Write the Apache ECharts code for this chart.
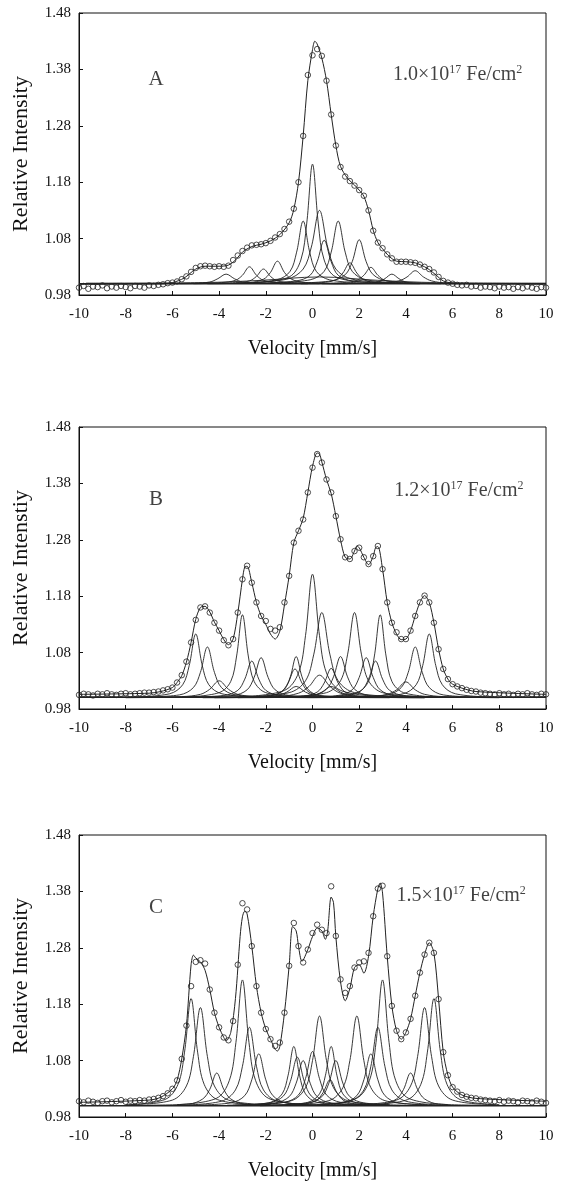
<!DOCTYPE html>
<html>
<head>
<meta charset="utf-8">
<script src="https://cdn.jsdelivr.net/npm/echarts@6/dist/echarts.min.js"></script>
<style>
html,body{margin:0;padding:0;background:#fff;}
#chart{width:565px;height:1192px;}
</style>
</head>
<body>
<div id="chart"></div>
<script>
// ---------- tick labels / text ----------
const yTickLabels = ['0.98','1.08','1.18','1.28','1.38','1.48'];
const xTickLabels = ['-10','-8','-6','-4','-2','0','2','4','6','8','10'];
const panelLetters = ['A','B','C'];
const doseValues = ['1.0','1.2','1.5'];
const yAxisNames = ['Relative Intensity','Relative Intenstiy','Relative Intensity'];
const xAxisName = 'Velocity [mm/s]';

// ---------- measured spectra (velocity grid, mm/s) ----------
const velocityGrid = [-10,-9.8,-9.6,-9.4,-9.2,-9,-8.8,-8.6,-8.4,-8.2,-8,-7.8,-7.6,-7.4,-7.2,-7,
 -6.8,-6.6,-6.4,-6.2,-6,-5.8,-5.6,-5.4,-5.2,-5,-4.8,-4.6,-4.4,-4.2,-4,-3.8,-3.6,-3.4,-3.2,-3,
 -2.8,-2.6,-2.4,-2.2,-2,-1.8,-1.6,-1.4,-1.2,-1,-0.8,-0.6,-0.4,-0.2,0,0.2,0.4,0.6,0.8,1,
 1.2,1.4,1.6,1.8,2,2.2,2.4,2.6,2.8,3,3.2,3.4,3.6,3.8,4,4.2,4.4,4.6,4.8,5,
 5.2,5.4,5.6,5.8,6,6.2,6.4,6.6,6.8,7,7.2,7.4,7.6,7.8,8,8.2,8.4,8.6,8.8,9,9.2,9.4,9.6,9.8,10];

const dataA = [0.993,0.996,0.991,0.995,0.994,0.997,0.992,0.995,0.993,0.996,0.994,0.992,0.996,0.995,0.993,0.997,
 0.996,0.998,0.999,1.001,1.002,1.004,1.008,1.013,1.021,1.028,
 1.031,1.032,1.031,1.030,1.031,1.030,1.032,1.042,1.050,1.058,
 1.064,1.068,1.069,1.070,1.072,1.076,1.082,1.088,1.097,1.110,
 1.133,1.180,1.262,1.370,1.405,1.416,1.404,1.360,1.300,1.245,
 1.207,1.190,1.182,1.174,1.166,1.156,1.130,1.094,1.073,1.063,
 1.052,1.045,1.039,1.039,1.039,1.038,1.037,1.034,1.030,1.026,
 1.020,1.012,1.005,1.002,1.000,0.998,0.997,0.998,0.995,0.996,
 0.993,0.995,0.994,0.992,0.995,0.993,0.994,0.991,0.994,0.992,
 0.995,0.993,0.991,0.994,0.993];

const dataB = [1.005,1.007,1.006,1.004,1.007,1.006,1.008,1.006,1.005,1.007,1.008,1.006,1.007,1.008,1.009,1.009,
 1.010,1.011,1.013,1.015,1.018,1.027,1.040,1.064,1.098,1.138,
 1.160,1.162,1.151,1.133,1.119,1.102,1.093,1.104,1.151,1.210,
 1.234,1.204,1.169,1.145,1.136,1.122,1.119,1.125,1.169,1.216,
 1.275,1.296,1.316,1.364,1.408,1.432,1.417,1.387,1.364,1.322,
 1.281,1.249,1.246,1.260,1.266,1.249,1.237,1.251,1.269,1.228,
 1.169,1.133,1.116,1.104,1.104,1.119,1.145,1.169,1.181,1.169,
 1.133,1.086,1.051,1.033,1.024,1.020,1.017,1.014,1.012,1.011,
 1.009,1.008,1.007,1.006,1.008,1.006,1.007,1.005,1.007,1.006,
 1.008,1.006,1.005,1.007,1.006];

const dataC = [1.008,1.006,1.009,1.007,1.005,1.008,1.009,1.006,1.008,1.010,1.007,1.009,1.008,1.010,1.009,1.011,
 1.012,1.014,1.017,1.022,1.030,1.045,1.083,1.142,1.212,1.255,
 1.258,1.252,1.206,1.165,1.139,1.121,1.116,1.150,1.250,1.359,
 1.348,1.283,1.212,1.165,1.136,1.118,1.106,1.112,1.165,1.248,
 1.324,1.283,1.254,1.277,1.306,1.321,1.312,1.306,1.389,1.301,
 1.224,1.200,1.212,1.245,1.254,1.256,1.271,1.336,1.385,1.390,
 1.265,1.177,1.133,1.118,1.130,1.154,1.195,1.236,1.268,1.289,
 1.271,1.189,1.095,1.054,1.033,1.025,1.019,1.016,1.014,1.013,
 1.011,1.010,1.009,1.008,1.010,1.007,1.009,1.008,1.006,1.009,
 1.008,1.006,1.009,1.007,1.005];

// ---------- fitted envelopes [velocity, intensity] ----------
const fitA = [[-10,0.999],[-6.5,1.0],[-6,1.002],[-5.5,1.01],[-5,1.026],[-4.6,1.031],[-4,1.031],[-3.6,1.033],[-3.3,1.042],[-3,1.056],[-2.6,1.066],[-2.2,1.07],[-1.8,1.076],[-1.4,1.087],[-1.0,1.108],[-0.8,1.132],[-0.6,1.18],[-0.4,1.262],[-0.2,1.36],[0,1.415],[0.1,1.43],[0.2,1.425],[0.4,1.40],[0.6,1.36],[0.8,1.3],[1.0,1.245],[1.2,1.208],[1.5,1.187],[1.8,1.175],[2.0,1.166],[2.2,1.155],[2.4,1.13],[2.6,1.095],[2.8,1.073],[3.0,1.062],[3.3,1.048],[3.6,1.04],[4.0,1.039],[4.4,1.037],[4.8,1.03],[5.0,1.025],[5.3,1.015],[5.6,1.005],[6,1.001],[6.5,1.0],[10,0.999]];

const fitB = [[-10,1.006],[-7,1.008],[-6.5,1.011],[-6,1.018],[-5.8,1.027],[-5.6,1.039],[-5.4,1.063],[-5.2,1.098],[-5.0,1.139],[-4.8,1.16],[-4.6,1.162],[-4.4,1.152],[-4.2,1.134],[-4.0,1.119],[-3.8,1.103],[-3.6,1.094],[-3.4,1.104],[-3.2,1.15],[-3.0,1.21],[-2.9,1.232],[-2.8,1.233],[-2.6,1.204],[-2.4,1.169],[-2.2,1.145],[-2.0,1.13],[-1.8,1.113],[-1.6,1.104],[-1.4,1.118],[-1.2,1.165],[-1.0,1.216],[-0.8,1.275],[-0.6,1.296],[-0.4,1.318],[-0.2,1.364],[0,1.41],[0.2,1.434],[0.3,1.432],[0.4,1.418],[0.6,1.387],[0.8,1.362],[1.0,1.322],[1.2,1.28],[1.4,1.249],[1.6,1.246],[1.8,1.26],[1.9,1.269],[2.0,1.266],[2.2,1.249],[2.4,1.236],[2.6,1.251],[2.7,1.266],[2.8,1.268],[3.0,1.228],[3.2,1.169],[3.4,1.133],[3.6,1.113],[3.8,1.103],[4.0,1.104],[4.2,1.119],[4.4,1.145],[4.6,1.169],[4.8,1.181],[5.0,1.169],[5.2,1.133],[5.4,1.086],[5.6,1.051],[5.8,1.033],[6.0,1.024],[6.4,1.017],[7,1.011],[10,1.006]];

const fitC = [[-10,1.006],[-7,1.01],[-6.5,1.015],[-6,1.03],[-5.8,1.045],[-5.6,1.083],[-5.4,1.142],[-5.2,1.25],[-5.1,1.267],[-5.0,1.262],[-4.8,1.255],[-4.6,1.24],[-4.4,1.206],[-4.2,1.165],[-4.0,1.139],[-3.8,1.121],[-3.7,1.115],[-3.5,1.13],[-3.3,1.19],[-3.1,1.3],[-3.0,1.335],[-2.9,1.345],[-2.8,1.34],[-2.6,1.283],[-2.4,1.212],[-2.2,1.165],[-2.0,1.136],[-1.8,1.118],[-1.6,1.1],[-1.5,1.097],[-1.4,1.105],[-1.2,1.165],[-1.0,1.248],[-0.85,1.318],[-0.7,1.31],[-0.6,1.283],[-0.45,1.256],[-0.2,1.277],[0,1.3],[0.2,1.315],[0.4,1.31],[0.55,1.295],[0.65,1.31],[0.8,1.37],[0.9,1.36],[1.0,1.3],[1.2,1.22],[1.4,1.186],[1.6,1.208],[1.8,1.245],[2.0,1.25],[2.2,1.235],[2.4,1.265],[2.6,1.336],[2.8,1.385],[2.9,1.395],[3.0,1.377],[3.2,1.265],[3.4,1.177],[3.6,1.133],[3.8,1.118],[4.0,1.13],[4.2,1.154],[4.4,1.195],[4.6,1.236],[4.8,1.268],[5.0,1.289],[5.2,1.271],[5.4,1.189],[5.6,1.095],[5.8,1.054],[6.0,1.033],[6.4,1.019],[7,1.013],[10,1.008]];

// ---------- baselines of the sub-spectra ----------
const baselineA = [[-10,1.0],[10,1.0]];
const baselineB = [[-10,1.001],[10,1.001]];
const baselineC = [[-10,1.0],[10,1.0]];

// ---------- sub-spectra (component lines) ----------
const compA = [
 [[-2.5,1.002],[-1,1.012],[-0.5,1.042],[-0.25,1.106],[0,1.212],[0.25,1.106],[0.5,1.042],[1,1.012],[2.5,1.002]],
 [[-3.2,1.001],[-1.1,1.008],[-0.4,1.026],[-0.05,1.065],[0.3,1.13],[0.65,1.065],[1.0,1.026],[1.7,1.008],[3.8,1.001]],
 [[-3.2,1.001],[-1.52,1.007],[-0.96,1.022],[-0.68,1.056],[-0.4,1.111],[-0.12,1.056],[0.16,1.022],[0.72,1.007],[2.4,1.001]],
 [[-1.9,1.001],[-0.1,1.007],[0.5,1.022],[0.8,1.056],[1.1,1.111],[1.4,1.056],[1.7,1.022],[2.3,1.007],[4.1,1.001]],
 [[-2.5,1.001],[-0.7,1.005],[-0.1,1.015],[0.2,1.039],[0.5,1.077],[0.8,1.039],[1.1,1.015],[1.7,1.005],[3.5,1.001]],
 [[-1.0,1.001],[0.8,1.005],[1.4,1.016],[1.7,1.039],[2.0,1.078],[2.3,1.039],[2.6,1.016],[3.2,1.005],[5.0,1.001]],
 [[-4.5,1.0],[-2.7,1.002],[-2.1,1.008],[-1.8,1.02],[-1.5,1.04],[-1.2,1.02],[-0.9,1.008],[-0.3,1.002],[1.5,1.0]],
 [[-5.7,1.0],[-3.9,1.002],[-3.3,1.006],[-3.0,1.015],[-2.7,1.03],[-2.4,1.015],[-2.1,1.006],[-1.5,1.002],[0.3,1.0]],
 [[-5.1,1.0],[-3.3,1.002],[-2.7,1.005],[-2.4,1.013],[-2.1,1.026],[-1.8,1.013],[-1.5,1.005],[-0.9,1.002],[0.9,1.0]],
 [[-7.2,1.0],[-5.1,1.001],[-4.4,1.003],[-4.05,1.009],[-3.7,1.017],[-3.35,1.009],[-3.0,1.003],[-2.3,1.001],[-0.2,1.0]],
 [[-1.4,1.0],[0.4,1.002],[1.0,1.007],[1.3,1.019],[1.6,1.037],[1.9,1.019],[2.2,1.007],[2.8,1.002],[4.6,1.0]],
 [[-0.5,1.0],[1.3,1.002],[1.9,1.006],[2.2,1.015],[2.5,1.029],[2.8,1.015],[3.1,1.006],[3.7,1.002],[5.5,1.0]],
 [[0.4,1.0],[2.2,1.001],[2.8,1.003],[3.1,1.009],[3.4,1.017],[3.7,1.009],[4.0,1.003],[4.6,1.001],[6.4,1.0]],
 [[0.9,1.0],[3.0,1.001],[3.7,1.005],[4.05,1.012],[4.4,1.023],[4.75,1.012],[5.1,1.005],[5.8,1.001],[7.9,1.0]],
 [[-9.7,1.001],[-4.7,1.002],[-2.2,1.006],[0.3,1.012],[2.8,1.006],[5.3,1.002],[10,1.001]]
];

const compB = [
 [[-7.8,1.001],[-6.12,1.007],[-5.56,1.023],[-5.28,1.057],[-5.0,1.113],[-4.72,1.057],[-4.44,1.023],[-3.88,1.007],[-2.2,1.001]],
 [[-7.5,1.001],[-5.7,1.005],[-5.1,1.018],[-4.8,1.045],[-4.5,1.09],[-4.2,1.045],[-3.9,1.018],[-3.3,1.005],[-1.5,1.001]],
 [[-5.5,1.001],[-4.0,1.009],[-3.5,1.029],[-3.25,1.074],[-3.0,1.147],[-2.75,1.074],[-2.5,1.029],[-2.0,1.009],[-0.5,1.001]],
 [[-5.6,1.001],[-3.8,1.004],[-3.2,1.013],[-2.9,1.033],[-2.6,1.065],[-2.3,1.033],[-2.0,1.013],[-1.4,1.004],[0.4,1.001]],
 [[-5.2,1.001],[-3.4,1.004],[-2.8,1.014],[-2.5,1.036],[-2.2,1.071],[-1.9,1.036],[-1.6,1.014],[-1.0,1.004],[0.8,1.001]],
 [[-3.2,1.001],[-1.7,1.004],[-1.2,1.015],[-0.95,1.037],[-0.7,1.073],[-0.45,1.037],[-0.2,1.015],[0.3,1.004],[1.8,1.001]],
 [[-3.75,1.001],[-1.95,1.003],[-1.35,1.01],[-1.05,1.026],[-0.75,1.051],[-0.45,1.026],[-0.15,1.01],[0.45,1.003],[2.25,1.001]],
 [[-3.0,1.002],[-1.2,1.013],[-0.6,1.044],[-0.3,1.11],[0.0,1.219],[0.3,1.11],[0.6,1.044],[1.2,1.013],[3.0,1.002]],
 [[-3.1,1.002],[-1.0,1.009],[-0.3,1.03],[0.05,1.076],[0.4,1.151],[0.75,1.076],[1.1,1.03],[1.8,1.009],[3.9,1.002]],
 [[-4.2,1.0],[-1.5,1.002],[-0.6,1.008],[-0.15,1.02],[0.3,1.04],[0.75,1.02],[1.2,1.008],[2.1,1.002],[4.8,1.0]],
 [[-2.2,1.001],[-0.4,1.003],[0.2,1.01],[0.5,1.026],[0.8,1.052],[1.1,1.026],[1.4,1.01],[2.0,1.003],[3.8,1.001]],
 [[-1.8,1.001],[0.0,1.004],[0.6,1.015],[0.9,1.037],[1.2,1.073],[1.5,1.037],[1.8,1.015],[2.4,1.004],[4.2,1.001]],
 [[-1.2,1.002],[0.6,1.009],[1.2,1.03],[1.5,1.076],[1.8,1.151],[2.1,1.076],[2.4,1.03],[3.0,1.009],[4.8,1.002]],
 [[-0.7,1.001],[1.1,1.004],[1.7,1.014],[2.0,1.036],[2.3,1.071],[2.6,1.036],[2.9,1.014],[3.5,1.004],[5.3,1.001]],
 [[-0.3,1.001],[1.5,1.004],[2.1,1.013],[2.4,1.033],[2.7,1.065],[3.0,1.033],[3.3,1.013],[3.9,1.004],[5.7,1.001]],
 [[0.4,1.001],[1.9,1.009],[2.4,1.029],[2.65,1.074],[2.9,1.147],[3.15,1.074],[3.4,1.029],[3.9,1.009],[5.4,1.001]],
 [[1.4,1.001],[3.2,1.005],[3.8,1.018],[4.1,1.045],[4.4,1.09],[4.7,1.045],[5.0,1.018],[5.6,1.005],[7.4,1.001]],
 [[2.2,1.001],[3.88,1.007],[4.44,1.023],[4.72,1.057],[5.0,1.113],[5.28,1.057],[5.56,1.023],[6.12,1.007],[7.8,1.001]],
 [[-8,1.0],[-5.6,1.002],[-4.8,1.006],[-4.4,1.015],[-4.0,1.03],[-3.6,1.015],[-3.2,1.006],[-2.4,1.002],[0,1.0]],
 [[0,1.0],[2.4,1.002],[3.2,1.006],[3.6,1.014],[4.0,1.028],[4.4,1.014],[4.8,1.006],[5.6,1.002],[8,1.0]],
 [[-4.7,1.0],[-2.3,1.001],[-1.5,1.004],[-1.1,1.01],[-0.7,1.02],[-0.3,1.01],[0.1,1.004],[0.9,1.001],[3.3,1.0]],
 [[-3.2,1.0],[-0.8,1.001],[0.0,1.004],[0.4,1.01],[0.8,1.02],[1.2,1.01],[1.6,1.004],[2.4,1.001],[4.8,1.0]]
];

const compC = [
 [[-8.0,1.002],[-6.32,1.011],[-5.76,1.038],[-5.48,1.095],[-5.2,1.19],[-4.92,1.095],[-4.64,1.038],[-4.08,1.011],[-2.4,1.002]],
 [[-7.8,1.002],[-6.0,1.01],[-5.4,1.035],[-5.1,1.087],[-4.8,1.174],[-4.5,1.087],[-4.2,1.035],[-3.6,1.01],[-1.8,1.002]],
 [[-7.1,1.001],[-5.3,1.003],[-4.7,1.012],[-4.4,1.029],[-4.1,1.058],[-3.8,1.029],[-3.5,1.012],[-2.9,1.003],[-1.1,1.001]],
 [[-5.8,1.002],[-4.12,1.013],[-3.56,1.045],[-3.28,1.112],[-3.0,1.223],[-2.72,1.112],[-2.44,1.045],[-1.88,1.013],[-0.2,1.002]],
 [[-5.7,1.001],[-3.9,1.008],[-3.3,1.028],[-3.0,1.07],[-2.7,1.139],[-2.4,1.07],[-2.1,1.028],[-1.5,1.008],[0.3,1.001]],
 [[-5.3,1.001],[-3.5,1.005],[-2.9,1.018],[-2.6,1.046],[-2.3,1.092],[-2.0,1.046],[-1.7,1.018],[-1.1,1.005],[0.7,1.001]],
 [[-3.3,1.001],[-1.8,1.006],[-1.3,1.021],[-1.05,1.053],[-0.8,1.105],[-0.55,1.053],[-0.3,1.021],[0.2,1.006],[1.7,1.001]],
 [[-3.65,1.001],[-1.85,1.005],[-1.25,1.017],[-0.95,1.043],[-0.65,1.086],[-0.35,1.043],[-0.05,1.017],[0.55,1.005],[2.35,1.001]],
 [[-3.4,1.001],[-1.6,1.005],[-1.0,1.016],[-0.7,1.04],[-0.4,1.08],[-0.1,1.04],[0.2,1.016],[0.8,1.005],[2.6,1.001]],
 [[-3.0,1.001],[-1.2,1.006],[-0.6,1.019],[-0.3,1.048],[0.0,1.096],[0.3,1.048],[0.6,1.019],[1.2,1.006],[3.0,1.001]],
 [[-2.7,1.002],[-0.9,1.009],[-0.3,1.032],[0.0,1.08],[0.3,1.159],[0.6,1.08],[0.9,1.032],[1.5,1.009],[3.3,1.002]],
 [[-1.7,1.001],[-0.2,1.006],[0.3,1.021],[0.55,1.053],[0.8,1.105],[1.05,1.053],[1.3,1.021],[1.8,1.006],[3.3,1.001]],
 [[-2.0,1.001],[-0.2,1.005],[0.4,1.016],[0.7,1.04],[1.0,1.08],[1.3,1.04],[1.6,1.016],[2.2,1.005],[4.0,1.001]],
 [[-2.25,1.0],[-0.45,1.003],[0.15,1.009],[0.45,1.023],[0.75,1.046],[1.05,1.023],[1.35,1.009],[1.95,1.003],[3.75,1.0]],
 [[-1.1,1.002],[0.7,1.009],[1.3,1.032],[1.6,1.08],[1.9,1.159],[2.2,1.08],[2.5,1.032],[3.1,1.009],[4.9,1.002]],
 [[-0.5,1.001],[1.3,1.005],[1.9,1.018],[2.2,1.046],[2.5,1.092],[2.8,1.046],[3.1,1.018],[3.7,1.005],[5.5,1.001]],
 [[-0.2,1.001],[1.6,1.008],[2.2,1.028],[2.5,1.07],[2.8,1.139],[3.1,1.07],[3.4,1.028],[4.0,1.008],[5.8,1.001]],
 [[0.2,1.002],[1.88,1.013],[2.44,1.045],[2.72,1.112],[3.0,1.223],[3.28,1.112],[3.56,1.045],[4.12,1.013],[5.8,1.002]],
 [[1.2,1.001],[3.0,1.003],[3.6,1.012],[3.9,1.029],[4.2,1.058],[4.5,1.029],[4.8,1.012],[5.4,1.003],[7.2,1.001]],
 [[1.8,1.002],[3.6,1.01],[4.2,1.035],[4.5,1.087],[4.8,1.174],[5.1,1.087],[5.4,1.035],[6.0,1.01],[7.8,1.002]],
 [[2.4,1.002],[4.08,1.011],[4.64,1.038],[4.92,1.095],[5.2,1.19],[5.48,1.095],[5.76,1.038],[6.32,1.011],[8.0,1.002]]
];

// ---------- text anchor positions (data space) ----------
const letterPos = [[-6.7,1.362],[-6.7,1.352],[-6.7,1.352]];
const dosePos = [[3.45,1.37],[3.5,1.367],[3.6,1.373]];

// ---------- build ----------
const FONT = 'Liberation Serif';
const panelData = [dataA, dataB, dataC];
const panelFit = [fitA, fitB, fitC];
const panelComp = [compA, compB, compC];
const panelBase = [baselineA, baselineB, baselineC];
const gridTops = [13, 427, 835];

const grids = [], xAxes = [], yAxes = [], series = [];
for (let i = 0; i < 3; i++) {
  grids.push({left: 79, top: gridTops[i], width: 467, height: 282, show: true,
    borderColor: '#111', borderWidth: 1, backgroundColor: 'transparent'});
  xAxes.push({type: 'value', gridIndex: i, min: -10, max: 10, interval: 2,
    axisLine: {show: true, onZero: false, lineStyle: {color: '#111', width: 1}},
    axisTick: {show: true, inside: true, length: 4, lineStyle: {color: '#111'}},
    splitLine: {show: false},
    axisLabel: {fontFamily: FONT, fontSize: 15, color: '#111', margin: 12,
      formatter: v => xTickLabels[Math.round((v + 10) / 2)] || ''},
    name: xAxisName, nameLocation: 'middle', nameGap: 44,
    nameTextStyle: {fontFamily: FONT, fontSize: 20, color: '#111'}});
  yAxes.push({type: 'value', gridIndex: i, min: 0.98, max: 1.48, interval: 0.1,
    axisLine: {show: true, onZero: false, lineStyle: {color: '#111', width: 1}},
    axisTick: {show: true, inside: true, length: 4, lineStyle: {color: '#111'}},
    splitLine: {show: false},
    axisLabel: {fontFamily: FONT, fontSize: 15, color: '#111', margin: 8,
      formatter: v => yTickLabels[Math.round((v - 0.98) / 0.1)] || ''},
    name: yAxisNames[i], nameLocation: 'middle', nameGap: 47, nameRotate: 90,
    nameTextStyle: {fontFamily: FONT, fontSize: 22, color: '#111'}});

  panelComp[i].forEach(c => series.push({type: 'line', xAxisIndex: i, yAxisIndex: i,
    data: c, smooth: 0.35, symbol: 'none', silent: true,
    lineStyle: {color: '#222', width: 0.9}}));
  series.push({type: 'line', xAxisIndex: i, yAxisIndex: i, data: panelBase[i],
    symbol: 'none', silent: true, lineStyle: {color: '#222', width: 1.6}});
  series.push({type: 'line', xAxisIndex: i, yAxisIndex: i, data: panelFit[i],
    smooth: 0.3, symbol: 'none', silent: true, lineStyle: {color: '#222', width: 1}});
  series.push({type: 'scatter', xAxisIndex: i, yAxisIndex: i,
    data: velocityGrid.map((v, k) => [v, panelData[i][k]]),
    symbol: 'circle', symbolSize: 5.5, silent: true,
    itemStyle: {color: 'rgba(255,255,255,0)', borderColor: '#222', borderWidth: 1}});
  series.push({type: 'scatter', xAxisIndex: i, yAxisIndex: i, data: [letterPos[i]],
    symbolSize: 0, silent: true,
    label: {show: true, position: 'inside', formatter: panelLetters[i],
      fontFamily: FONT, fontSize: 21, color: '#111'}});
  series.push({type: 'scatter', xAxisIndex: i, yAxisIndex: i, data: [dosePos[i]],
    symbolSize: 0, silent: true,
    label: {show: true, position: 'inside', align: 'left',
      formatter: '{n|' + doseValues[i] + '×10}{s|17}{n| Fe/cm}{s|2}',
      rich: {n: {fontFamily: FONT, fontSize: 20, color: '#111'},
             s: {fontFamily: FONT, fontSize: 12, color: '#111', verticalAlign: 'top', padding: [0, 0, 10, 0]}}}});
}

const chart = echarts.init(document.getElementById('chart'), null, {renderer: 'canvas'});
chart.setOption({animation: false, backgroundColor: '#fff',
  grid: grids, xAxis: xAxes, yAxis: yAxes, series: series});
</script>
</body>
</html>
